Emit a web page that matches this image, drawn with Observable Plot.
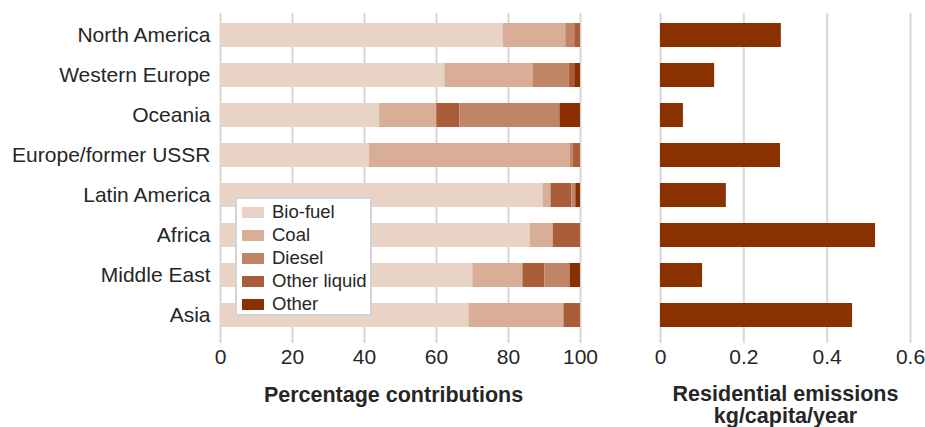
<!DOCTYPE html>
<html>
<head>
<meta charset="utf-8">
<script src="https://cdn.jsdelivr.net/npm/d3@7"></script>
<script src="https://cdn.jsdelivr.net/npm/@observablehq/plot@0.6"></script>
<style>
  body { margin: 0; background: #fff; font-family: "Liberation Sans", Arial, sans-serif; }
  #wrap { position: relative; width: 925px; height: 427px; display: flex; overflow: hidden; }
  #legend { position: absolute; left: 235px; top: 197px; width: 137px; height: 119px; box-sizing: border-box;
            border: 2px solid #d4d4d4; background: #fff; }
  .row { position: absolute; left: 5px; height: 23px; display: flex; align-items: center; }
  .sw { width: 22px; height: 11px; margin-right: 8px; }
  .lb { font-size: 18.5px; color: #262626; line-height: 1; }
</style>
</head>
<body>
<div id="wrap"></div>
<script>
// ---- data ----
const regions = ["North America", "Western Europe", "Oceania", "Europe/former USSR",
                 "Latin America", "Africa", "Middle East", "Asia"];
const fuels = ["Bio-fuel", "Coal", "Diesel", "Other liquid", "Other"];
const bioFuel     = [78.6, 62.3, 44.2, 41.4, 89.6, 86.0, 70.1, 69.0];
const coal        = [17.3, 24.5, 15.9, 55.7,  2.2,  6.4, 13.9, 26.4];
const diesel      = [ 2.5, 10.0, 27.8,  0.8,  1.1,  0.0,  7.0,  0.0];
const otherLiquid = [ 1.6,  1.6,  6.4,  2.1,  5.8,  7.6,  6.1,  4.6];
const other       = [ 0.0,  1.6,  5.7,  0.0,  1.3,  0.0,  2.9,  0.0];
// regions where "Other liquid" is stacked before "Diesel" in the source
const liquidFirst = ["Oceania", "Latin America", "Middle East"];
const emissions   = [0.290, 0.130, 0.055, 0.288, 0.158, 0.516, 0.101, 0.461];
const xTicksLeft  = [0, 20, 40, 60, 80, 100];
const xTicksRight = [0, 0.2, 0.4, 0.6];
const leftTitle  = "Percentage contributions";
const rightTitle = "Residential emissions\nkg/capita/year";
const fuelColors = ["#e9d3c5", "#d8ae96", "#c08466", "#a95d38", "#8a3000"];
const emisColor = "#8a3100";

// ---- build tables ----
const series = {"Bio-fuel": bioFuel, "Coal": coal, "Diesel": diesel, "Other liquid": otherLiquid, "Other": other};
const records = [];
regions.forEach((r, i) => {
  const order = liquidFirst.includes(r)
    ? ["Bio-fuel", "Coal", "Other liquid", "Diesel", "Other"]
    : fuels;
  for (const f of order) records.push({region: r, fuel: f, value: series[f][i]});
});
const emisData = regions.map((r, i) => ({region: r, value: emissions[i]}));

const font = "'Liberation Sans', Arial, sans-serif";
const baseStyle = {fontFamily: font, fontSize: "21px", color: "#262626", background: "transparent", overflow: "visible"};

const left = Plot.plot({
  width: 600, height: 427,
  marginLeft: 220, marginRight: 20, marginTop: 13, marginBottom: 84,
  style: baseStyle,
  x: {domain: [0, 100], ticks: xTicksLeft, label: null, tickSize: 0, tickPadding: 6},
  y: {domain: regions, range: [15, 335], paddingInner: 0.4, paddingOuter: 0.2, label: null, tickSize: 0, tickPadding: 10},
  color: {domain: fuels, range: fuelColors},
  marks: [
    Plot.gridX(xTicksLeft, {stroke: "#d6d6d6", strokeOpacity: 1, strokeWidth: 2}),
    Plot.barX(records, {y: "region", x: "value", fill: "fuel", order: null}),
    Plot.text([leftTitle], {frameAnchor: "bottom", lineAnchor: "top", dy: 43, dx: -7,
      fontWeight: "bold", fontSize: 21.5, fill: "#262626"})
  ]
});

const right = Plot.plot({
  width: 325, height: 427,
  marginLeft: 60, marginRight: 15, marginTop: 13, marginBottom: 84,
  style: baseStyle,
  x: {domain: [0, 0.6], ticks: xTicksRight, tickFormat: d => String(d), label: null, tickSize: 0, tickPadding: 6},
  y: {domain: regions, range: [15, 335], paddingInner: 0.4, paddingOuter: 0.2, axis: null},
  marks: [
    Plot.gridX(xTicksRight, {stroke: "#d6d6d6", strokeOpacity: 1, strokeWidth: 2}),
    Plot.barX(emisData, {y: "region", x: "value", fill: emisColor}),
    Plot.text([rightTitle], {frameAnchor: "bottom", lineAnchor: "top", dy: 42, lineHeight: 1.03,
      fontWeight: "bold", fontSize: 21.5, fill: "#262626"})
  ]
});

const wrap = document.getElementById("wrap");
wrap.appendChild(left);
wrap.appendChild(right);

// legend
const legend = document.createElement("div");
legend.id = "legend";
fuels.forEach((f, i) => {
  const row = document.createElement("div");
  row.className = "row";
  row.style.top = (2 + i * 23) + "px";
  const sw = document.createElement("div");
  sw.className = "sw";
  sw.style.background = fuelColors[i];
  const lb = document.createElement("span");
  lb.className = "lb";
  lb.textContent = f;
  row.appendChild(sw); row.appendChild(lb);
  legend.appendChild(row);
});
wrap.appendChild(legend);
</script>
</body>
</html>
